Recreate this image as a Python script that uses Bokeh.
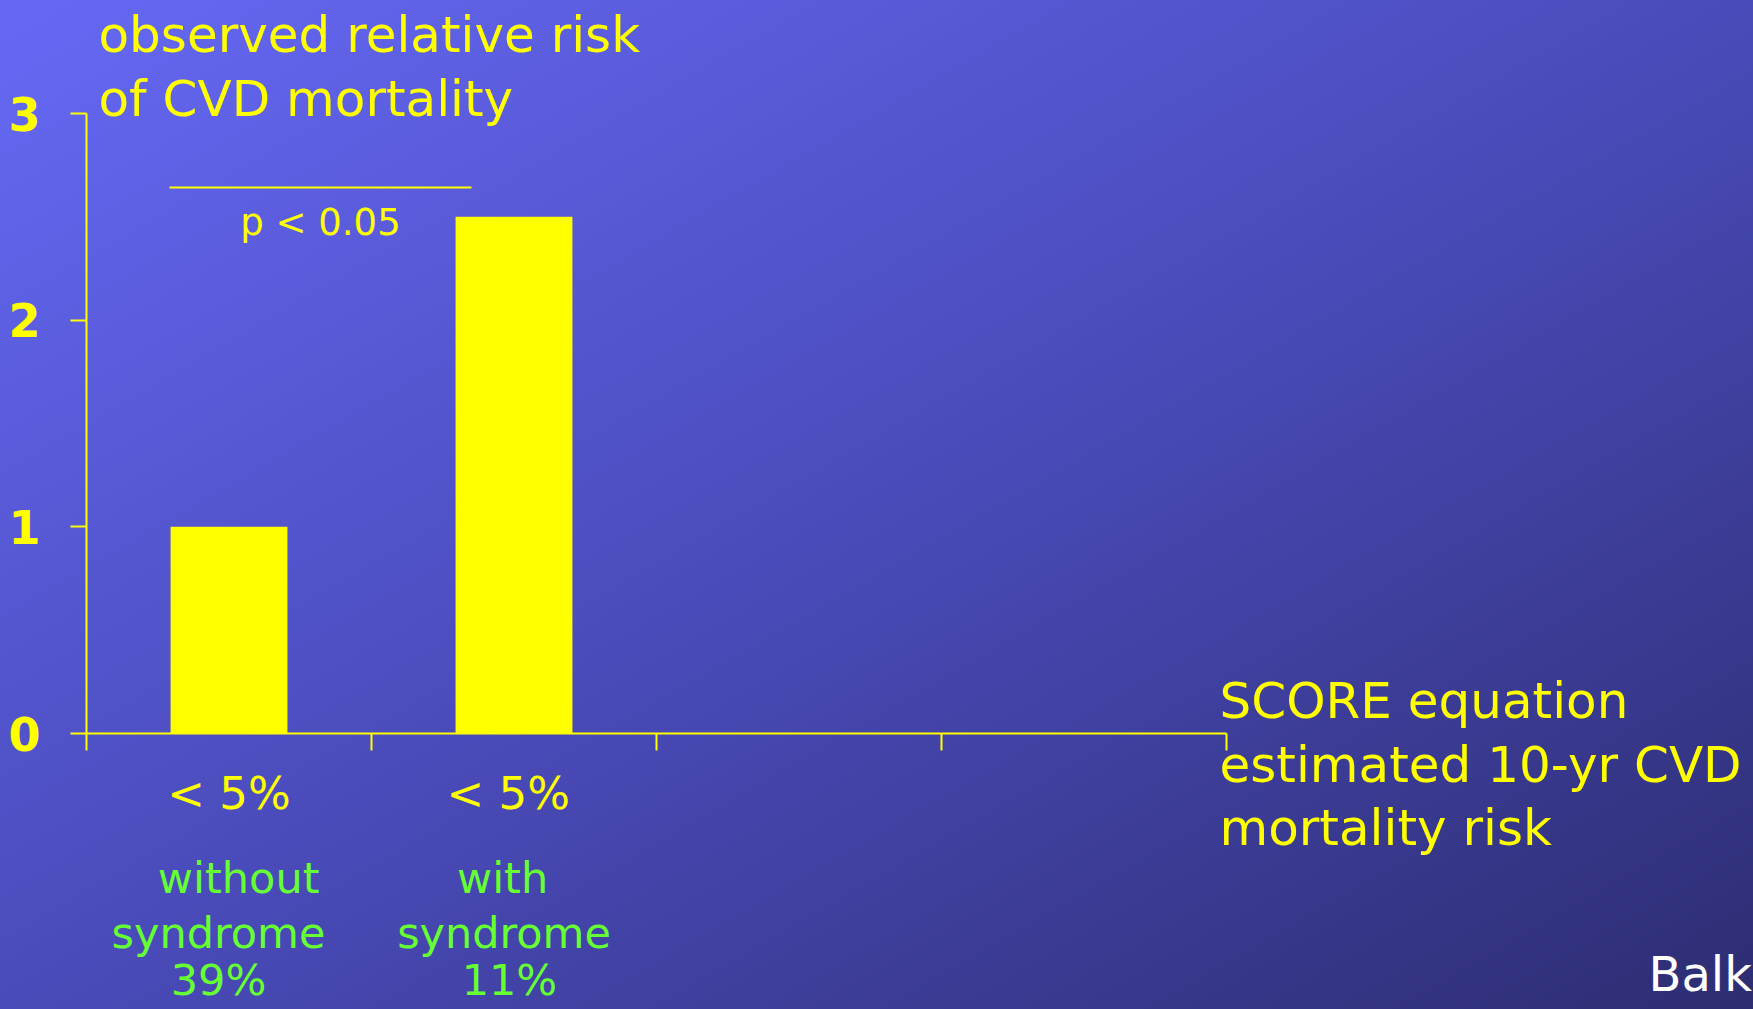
from bokeh.plotting import figure
from bokeh.models import Range1d, FixedTicker, Label
from bokeh.embed import file_html
from bokeh.resources import INLINE

# ---- data ----
risk_band = ["< 5%", "< 5%"]
group_line1 = ["without", "with"]
group_line2 = ["syndrome", "syndrome"]
prevalence = ["39%", "11%"]
relative_risk = [1.0, 2.5]
y_ticks = [0, 1, 2, 3]
x_ticks = [0, 1, 2, 3, 4]
p_text = "p < 0.05"
y_title = ["observed relative risk", "of CVD mortality"]
x_title = ["SCORE equation", "estimated 10-yr CVD", "mortality risk"]
source_text = "Balkau"

YELLOW = "#FFFF00"
GREEN = "#66FF33"
FONT = "DejaVu Sans"

W, H = 1753, 1009
# pixel geometry of the chart area inside the page
AX_LEFT, AX_RIGHT, AX_TOP, AX_BOTTOM = 86, 1226, 113, 733
XMAX, YMAX = 4, 3
UX = (AX_RIGHT - AX_LEFT) / XMAX
UY = (AX_BOTTOM - AX_TOP) / YMAX


def dx(px):
    return (px - AX_LEFT) / UX


def dy(py):
    return (AX_BOTTOM - py) / UY


def label(x, base_px, text, color, size, align="left"):
    # base_px: wanted baseline in page pixels; corrected for the renderer's offset
    return Label(x=x, y=dy(base_px - 0.38 * size), text=text, text_align=align,
                 text_baseline="alphabetic", text_color=color, text_font=FONT,
                 text_font_size=f"{size}px")


p = figure(width=W, height=H, output_backend="svg", toolbar_location=None,
           x_range=Range1d(dx(0), dx(W)), y_range=Range1d(dy(H), dy(0)),
           min_border_left=0, min_border_right=0,
           min_border_top=0, min_border_bottom=0)
p.styles = {"background": "linear-gradient(to bottom right, #6669F5 0%, #4A4BBA 50%, #2D2D72 100%)"}
p.background_fill_alpha = 0
p.border_fill_alpha = 0
p.outline_line_color = None
p.grid.visible = False

# bars
centers = [i + 0.5 for i in range(len(relative_risk))]
p.vbar(x=centers, top=relative_risk, width=0.41, fill_color=YELLOW, line_color=None)

# axes (placed at the data origin)
for ax in (p.xaxis[0], p.yaxis[0]):
    ax.fixed_location = 0
    ax.axis_line_color = YELLOW
    ax.axis_line_width = 2
    ax.major_tick_line_color = YELLOW
    ax.major_tick_line_width = 2
    ax.major_tick_in = 0
    ax.minor_tick_line_color = None

p.xaxis.bounds = (0, XMAX)
p.xaxis.ticker = FixedTicker(ticks=x_ticks)
p.xaxis.major_tick_out = 17
p.xaxis.major_label_text_color = None
p.xaxis.major_label_text_font_size = "1px"

p.yaxis.bounds = (0, YMAX)
p.yaxis.ticker = FixedTicker(ticks=y_ticks)
p.yaxis.major_tick_out = 16
p.yaxis.major_label_text_color = YELLOW
p.yaxis.major_label_text_font = FONT
p.yaxis.major_label_text_font_style = "bold"
p.yaxis.major_label_text_font_size = "46px"
p.yaxis.major_label_standoff = 30

# significance bar
p.segment(x0=[dx(169)], y0=[dy(187)], x1=[dx(471)], y1=[dy(187)], line_color=YELLOW, line_width=2)
p.add_layout(label(dx(320), 236, p_text, YELLOW, 37, "center"))

# titles
for t, base in zip(y_title, [53, 117]):
    p.add_layout(label(dx(98), base, t, YELLOW, 50))
for t, base in zip(x_title, [719, 783, 846]):
    p.add_layout(label(dx(1219), base, t, YELLOW, 50))

# category labels
offs1 = [0.034, -0.04]
offs2 = [-0.037, -0.035]
offs3 = [-0.037, -0.016]
for i, c in enumerate(centers):
    p.add_layout(label(c - 0.02 * i, 810, risk_band[i], YELLOW, 45, "center"))
    p.add_layout(label(c + offs1[i], 894, group_line1[i], GREEN, 43, "center"))
    p.add_layout(label(c + offs2[i], 949, group_line2[i], GREEN, 43, "center"))
    p.add_layout(label(c + offs3[i], 996, prevalence[i], GREEN, 43, "center"))

p.add_layout(label(dx(1648), 992, source_text, "white", 48))

html = file_html(p, INLINE)
html = html.replace("<body>", '<body style="margin:0;background:#2D2D72;">')
open("out.html", "w").write(html)
